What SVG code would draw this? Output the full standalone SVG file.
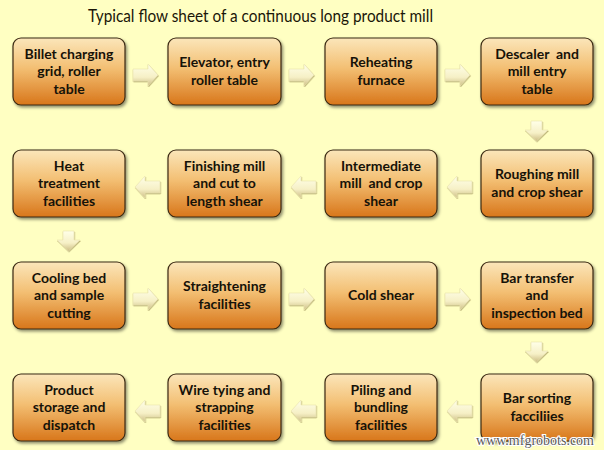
<svg xmlns="http://www.w3.org/2000/svg" width="604" height="450" viewBox="0 0 604 450">
<defs>
<linearGradient id="boxg" x1="0" y1="0" x2="0" y2="1">
<stop offset="0" stop-color="#FBE6BA"/>
<stop offset="0.45" stop-color="#F3BF73"/>
<stop offset="1" stop-color="#D8761A"/>
</linearGradient>
<linearGradient id="arrg" x1="0" y1="0" x2="0" y2="1">
<stop offset="0" stop-color="#FFFFE8"/>
<stop offset="0.6" stop-color="#F6F0C6"/>
<stop offset="1" stop-color="#CDBD85"/>
</linearGradient>
<filter id="sh" x="-10%" y="-10%" width="125%" height="130%">
<feDropShadow dx="1.5" dy="2" stdDeviation="1.5" flood-color="#000" flood-opacity="0.45"/>
</filter>
<filter id="ash" x="-20%" y="-20%" width="150%" height="150%">
<feDropShadow dx="0.5" dy="1" stdDeviation="0.6" flood-color="#8a7a40" flood-opacity="0.6"/>
</filter>
</defs>
<style>
.box{fill:url(#boxg);stroke:#3b2a12;stroke-width:1.2;filter:url(#sh)}
.t{font-family:Lato,"Open Sans","Liberation Sans",sans-serif;font-weight:bold;font-size:14px;fill:#161208;text-anchor:middle}
.arr{fill:url(#arrg);stroke:#EAE2AC;stroke-width:0.6;filter:url(#ash)}
.title{font-family:Lato,"Open Sans","Liberation Sans",sans-serif;font-size:17px;fill:#1a1608;text-anchor:middle}
.wm{font-family:"Liberation Serif","DejaVu Serif",serif;font-size:14px;fill:#5a5a5a;stroke:#ffffff;stroke-width:2.2;paint-order:stroke;text-anchor:end}
</style>
<rect width="604" height="450" fill="#FFFFC2"/>
<text class="title" x="260.5" y="22" textLength="345" lengthAdjust="spacingAndGlyphs">Typical flow sheet of a continuous long product mill</text>

<g id="connectors">
<polygon class="arr" points="133,69 148,69 148,64 158,75 148,86 148,81 133,81"/>
<polygon class="arr" points="289,69 304,69 304,64 314,75 304,86 304,81 289,81"/>
<polygon class="arr" points="445,69 460,69 460,64 470,75 460,86 460,81 445,81"/>
<polygon class="arr" points="531,121 542,121 542,130 548,130 536.5,141 525,130 531,130"/>
<polygon class="arr" points="472,181 457,181 457,176 447,187 457,198 457,193 472,193"/>
<polygon class="arr" points="316,181 301,181 301,176 291,187 301,198 301,193 316,193"/>
<polygon class="arr" points="160,181 145,181 145,176 135,187 145,198 145,193 160,193"/>
<polygon class="arr" points="63,231 74,231 74,240 80,240 68.5,251 57,240 63,240"/>
<polygon class="arr" points="133,293 148,293 148,288 158,299 148,310 148,305 133,305"/>
<polygon class="arr" points="289,293 304,293 304,288 314,299 304,310 304,305 289,305"/>
<polygon class="arr" points="445,293 460,293 460,288 470,299 460,310 460,305 445,305"/>
<polygon class="arr" points="531,342 542,342 542,351 548,351 536.5,362 525,351 531,351"/>
<polygon class="arr" points="472,405 457,405 457,400 447,411 457,422 457,417 472,417"/>
<polygon class="arr" points="316,405 301,405 301,400 291,411 301,422 301,417 316,417"/>
<polygon class="arr" points="160,405 145,405 145,400 135,411 145,422 145,417 160,417"/>
</g>

<g id="n1"><rect class="box" x="13" y="38" width="112" height="67" rx="8"/>
<text class="t"><tspan x="69" y="58.5">Billet charging</tspan><tspan x="69" y="76">grid, roller</tspan><tspan x="69" y="93.5">table</tspan></text></g>
<g id="n2"><rect class="box" x="168" y="38" width="113" height="67" rx="8"/>
<text class="t"><tspan x="224.5" y="67">Elevator, entry</tspan><tspan x="224.5" y="84.5">roller table</tspan></text></g>
<g id="n3"><rect class="box" x="325" y="38" width="112" height="67" rx="8"/>
<text class="t"><tspan x="381" y="67">Reheating</tspan><tspan x="381" y="84.5">furnace</tspan></text></g>
<g id="n4"><rect class="box" x="481" y="38" width="112" height="67" rx="8"/>
<text class="t"><tspan x="537" y="58.5" xml:space="preserve">Descaler  and</tspan><tspan x="537" y="76">mill entry</tspan><tspan x="537" y="93.5">table</tspan></text></g>

<g id="n5"><rect class="box" x="481" y="150" width="112" height="67" rx="8"/>
<text class="t"><tspan x="537" y="179">Roughing mill</tspan><tspan x="537" y="196.5">and crop shear</tspan></text></g>
<g id="n6"><rect class="box" x="325" y="150" width="112" height="67" rx="8"/>
<text class="t"><tspan x="381" y="170.5">Intermediate</tspan><tspan x="381" y="188" xml:space="preserve">mill  and crop</tspan><tspan x="381" y="205.5">shear</tspan></text></g>
<g id="n7"><rect class="box" x="168" y="150" width="113" height="67" rx="8"/>
<text class="t"><tspan x="224.5" y="170.5">Finishing mill</tspan><tspan x="224.5" y="188">and cut to</tspan><tspan x="224.5" y="205.5">length shear</tspan></text></g>
<g id="n8"><rect class="box" x="13" y="150" width="112" height="67" rx="8"/>
<text class="t"><tspan x="69" y="170.5">Heat</tspan><tspan x="69" y="188">treatment</tspan><tspan x="69" y="205.5">facilities</tspan></text></g>

<g id="n9"><rect class="box" x="13" y="262" width="112" height="67" rx="8"/>
<text class="t"><tspan x="69" y="282.5">Cooling bed</tspan><tspan x="69" y="300">and sample</tspan><tspan x="69" y="317.5">cutting</tspan></text></g>
<g id="n10"><rect class="box" x="168" y="262" width="113" height="67" rx="8"/>
<text class="t"><tspan x="224.5" y="291">Straightening</tspan><tspan x="224.5" y="308.5">facilities</tspan></text></g>
<g id="n11"><rect class="box" x="325" y="262" width="112" height="67" rx="8"/>
<text class="t"><tspan x="381" y="300">Cold shear</tspan></text></g>
<g id="n12"><rect class="box" x="481" y="262" width="112" height="67" rx="8"/>
<text class="t"><tspan x="537" y="282.5">Bar transfer</tspan><tspan x="537" y="300">and</tspan><tspan x="537" y="317.5">inspection bed</tspan></text></g>

<g id="n13"><rect class="box" x="481" y="374" width="112" height="67" rx="8"/>
<text class="t"><tspan x="537" y="403">Bar sorting</tspan><tspan x="537" y="420.5">facciliies</tspan></text></g>
<g id="n14"><rect class="box" x="325" y="374" width="112" height="67" rx="8"/>
<text class="t"><tspan x="381" y="394.5">Piling and</tspan><tspan x="381" y="412">bundling</tspan><tspan x="381" y="429.5">facilities</tspan></text></g>
<g id="n15"><rect class="box" x="168" y="374" width="113" height="67" rx="8"/>
<text class="t"><tspan x="224.5" y="394.5">Wire tying and</tspan><tspan x="224.5" y="412">strapping</tspan><tspan x="224.5" y="429.5">facilities</tspan></text></g>
<g id="n16"><rect class="box" x="13" y="374" width="112" height="67" rx="8"/>
<text class="t"><tspan x="69" y="394.5">Product</tspan><tspan x="69" y="412">storage and</tspan><tspan x="69" y="429.5">dispatch</tspan></text></g>

<text class="wm" x="594" y="445">www.mfgrobots.com</text>
</svg>
